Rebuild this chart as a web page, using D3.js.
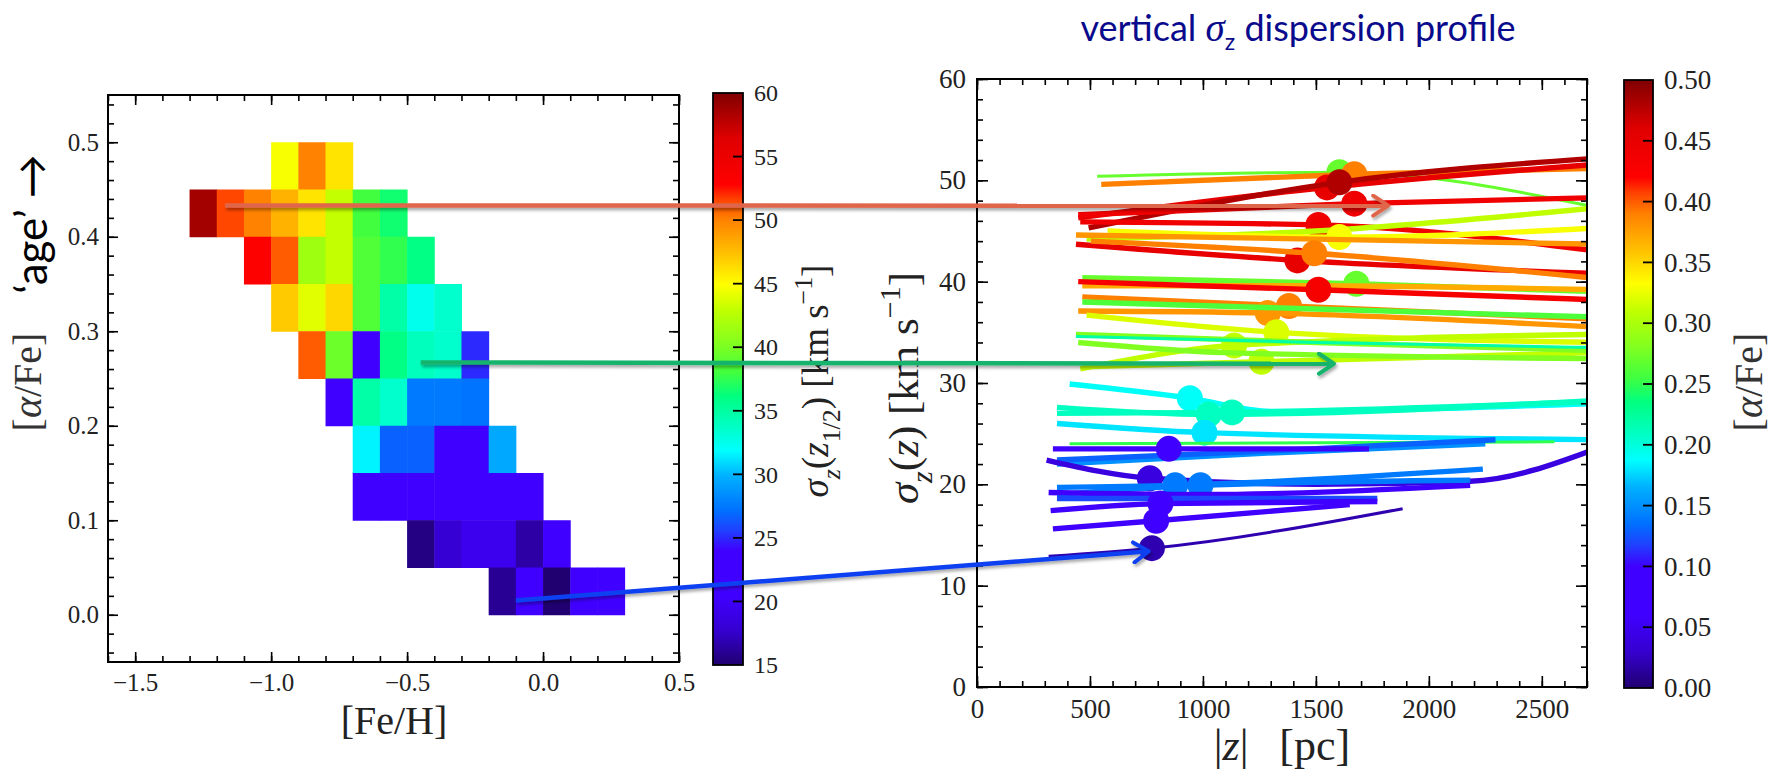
<!DOCTYPE html>
<html><head><meta charset="utf-8">
<script src="https://cdn.jsdelivr.net/npm/d3@7"></script>
<style>body{margin:0;background:#fff}</style>
</head><body><svg id="c" width="1785" height="775"></svg>
<script>
// ================= DATA =================
// Left panel: binned [Fe/H] x [alpha/Fe] map, value = sigma_z(z_1/2) in km/s
const afeRows     = [0.45, 0.40, 0.35, 0.30, 0.25, 0.20, 0.15, 0.10, 0.05, 0.00];
const rowFeHStart = [-1.0, -1.3, -1.1, -1.0, -0.9, -0.8, -0.7, -0.7, -0.5, -0.2];
const rowSigma = [
  [44.7, 50.0, 46.0],
  [58.7, 51.5, 50.0, 48.0, 46.0, 43.0, 38.0, 36.6],
  [53.0, 51.0, 41.5, 43.0, 38.5, 37.5, 36.0],
  [47.0, 44.0, 46.5, 38.5, 34.8, 32.5, 33.5],
  [51.0, 39.5, 21.5, 36.0, 34.0, 33.5, 25.0],
  [21.5, 34.8, 33.5, 27.6, 27.6, 27.3],
  [31.6, 26.7, 26.7, 21.5, 24.0, 29.5],
  [21.5, 21.5, 21.5, 21.5, 21.5, 21.5, 21.5],
  [15.5, 18.0, 19.5, 19.5, 16.5, 21.0],
  [16.0, 21.5, 15.0, 21.5, 21.5]
];
const binFeH = 0.1, binAFe = 0.05;

// Right panel: vertical dispersion profiles sigma_z(|z|), coloured by [alpha/Fe]
// z in pc, s in km/s, dot = index of the marked point (z_1/2) or null
const profiles = [
  {afe:0.27, z:[532,1604,2750],  s:[50.4,50.8,47.3], dot:1},
  {afe:0.39, z:[550,1670,2750],  s:[49.6,50.6,51.2], dot:1},
  {afe:0.45, z:[448,1549,2750],  s:[46.3,49.3,51.6], dot:1},
  {afe:0.48, z:[494,1604,2750],  s:[45.3,49.8,52.2], dot:1},
  {afe:0.44, z:[448,1670,2750],  s:[46.6,47.7,48.3], dot:1},
  {afe:0.44, z:[457,1511,2750],  s:[45.9,45.6,43.0], dot:1},
  {afe:0.31, z:[485,1500,2750],  s:[44.2,45.0,47.3], dot:null},
  {afe:0.33, z:[578,1604,2750],  s:[45.0,44.4,45.3], dot:1},
  {afe:0.38, z:[438,1500,2750],  s:[44.6,44.2,43.7], dot:null},
  {afe:0.45, z:[438,1418,2750],  s:[43.7,42.1,40.8], dot:1},
  {afe:0.39, z:[504,1493,2750],  s:[44.0,42.8,40.3], dot:1},
  {afe:0.27, z:[466,1679,2750],  s:[40.4,39.8,39.0], dot:1},
  {afe:0.37, z:[466,1430,2750],  s:[39.6,39.6,39.2], dot:null},
  {afe:0.43, z:[448,1511,2750],  s:[40.0,39.2,38.2], dot:1},
  {afe:0.39, z:[466,1381,2750],  s:[38.5,37.6,36.3], dot:1},
  {afe:0.38, z:[448,1287,2750],  s:[37.1,36.9,35.5], dot:1},
  {afe:0.26, z:[466,1500,2750],  s:[38.0,37.3,36.5], dot:null},
  {afe:0.32, z:[485,1325,2750],  s:[36.7,35.0,34.0], dot:1},
  {afe:0.31, z:[457,1138,2750],  s:[31.4,33.7,34.8], dot:1},
  {afe:0.31, z:[466,1259,2750],  s:[31.6,32.1,33.0], dot:1},
  {afe:0.28, z:[438,1500,2750],  s:[34.8,34.0,33.2], dot:null},
  {afe:0.22, z:[438,1500,2750],  s:[34.6,34.0,33.5], dot:null},
  {afe:0.28, z:[448,1100,2750],  s:[34.0,33.0,32.4], dot:null},
  {afe:0.19, z:[410,942,1300,2750], s:[29.9,28.5,27.2,28.0], dot:1},
  {afe:0.21, z:[354,1026,2750],  s:[27.6,26.9,28.3], dot:1},
  {afe:0.21, z:[354,1129,2750],  s:[27.0,27.1,28.2], dot:1},
  {afe:0.18, z:[354,1007,2750],  s:[26.0,25.1,24.4], dot:1},
  {afe:0.25, z:[410,1500,2556],  s:[24.0,24.1,24.2], dot:null},
  {afe:0.15, z:[354,1200,2250],  s:[22.0,23.0,24.0], dot:null},
  {afe:0.13, z:[354,1300,2295],  s:[22.4,23.3,24.4], dot:null},
  {afe:0.08, z:[336,849,1735],   s:[23.5,23.5,23.5], dot:1},
  {afe:0.04, z:[308,765,1500,2183,2750], s:[22.4,20.6,20.0,20.3,23.6], dot:1},
  {afe:0.14, z:[354,877,2239],   s:[19.7,19.9,21.5], dot:1},
  {afe:0.14, z:[354,989,2183],   s:[19.0,19.9,20.4], dot:1},
  {afe:0.07, z:[317,1000,2183],  s:[19.2,19.0,19.9], dot:null},
  {afe:0.12, z:[354,1000,1772],  s:[18.6,18.6,18.6], dot:null},
  {afe:0.08, z:[326,812,1772],   s:[17.4,18.1,18.3], dot:1},
  {afe:0.06, z:[336,793,1650],   s:[15.6,16.4,18.0], dot:1},
  {afe:0.02, z:[317,774,1884],   s:[12.9,13.7,17.6], dot:1}
];

// Connecting arrows: start in left panel ([Fe/H],[a/Fe]), end in right panel (|z|, sigma)
const arrowFrom = [[-1.17, 0.433], [-0.45, 0.267], [-0.10, 0.015]];
const arrowTo   = [[1820, 47.5],   [1580, 31.9],   [760, 13.4]];

// Tick labels
const leftXTicks  = [-1.5, -1.0, -0.5, 0.0, 0.5];
const leftYTicks  = [0.0, 0.1, 0.2, 0.3, 0.4, 0.5];
const cbSigmaTicks = [15, 20, 25, 30, 35, 40, 45, 50, 55, 60];
const rightXTicks = [0, 500, 1000, 1500, 2000, 2500];
const rightYTicks = [0, 10, 20, 30, 40, 50, 60];
const cbAFeTicks  = [0.00, 0.05, 0.10, 0.15, 0.20, 0.25, 0.30, 0.35, 0.40, 0.45, 0.50];

// ================= STYLE =================
const cmapStops = [
  [0.00,'#200070'],[0.06,'#3500d0'],[0.12,'#4000ff'],[0.20,'#4000ff'],[0.235,'#2040ff'],
  [0.27,'#0070ff'],[0.33,'#00b0ff'],[0.375,'#00ffff'],[0.42,'#00ffc0'],[0.47,'#00ff80'],
  [0.51,'#40ff40'],[0.56,'#80ff20'],[0.62,'#c0ff00'],[0.665,'#ffff00'],[0.72,'#ffc000'],
  [0.78,'#ff8000'],[0.815,'#ff4000'],[0.84,'#ff0000'],[0.92,'#e00000'],[1.00,'#800000']
];
const cmap = d3.scaleLinear().domain(cmapStops.map(d=>d[0])).range(cmapStops.map(d=>d[1]))
  .interpolate(d3.interpolateRgb).clamp(true);
const arrowColors = ['#e0664b', '#17b36d', '#1040f0'];
const SERIF = "'Liberation Serif', 'DejaVu Serif', serif";
const tickCol = '#222';

const svg = d3.select('#c');
svg.append('rect').attr('width',1785).attr('height',775).attr('fill','#fff');
const defs = svg.append('defs');
const shadow = defs.append('filter').attr('id', 'shadow').attr('x', '-5%').attr('y', '-50%').attr('width', '110%').attr('height', '200%');
shadow.append('feDropShadow').attr('dx', 1.5).attr('dy', 2.5).attr('stdDeviation', 1.5)
  .attr('flood-color', '#000').attr('flood-opacity', 0.35);

// ================= SCALES =================
const lx = d3.scaleLinear().domain([-1.6, 0.5]).range([108, 679]);
const ly = d3.scaleLinear().domain([-0.05, 0.55]).range([662, 95]);
const rx = d3.scaleLinear().domain([0, 2700]).range([977, 1587]);
const ry = d3.scaleLinear().domain([0, 60]).range([687, 79]);
const sigC = d3.scaleLinear().domain([15, 60]).range([0, 1]);
const afeC = d3.scaleLinear().domain([0, 0.5]).range([0, 1]);
const cb1y = d3.scaleLinear().domain([15, 60]).range([665, 93]);
const cb2y = d3.scaleLinear().domain([0, 0.5]).range([688, 80]);

// ================= HELPERS =================
function mathText(sel, parts, size) {
  let shift = 0;
  parts.forEach(p => {
    const target = p.sub ? 0.32 : (p.sup ? -0.42 : 0);
    const ts = sel.append('tspan').text(p.t);
    ts.attr('font-size', (p.sub || p.sup) ? size * 0.7 : size);
    if (p.it) ts.attr('font-style', 'italic');
    const dy = (target - shift) * size;
    if (dy !== 0) ts.attr('dy', dy.toFixed(2));
    shift = target;
  });
}

function framedAxes(g, x, y, o) {
  const [x0, x1] = x.range(), [y0, y1] = y.range();
  const styleTicks = sel => {
    sel.select('.domain').remove();
    sel.selectAll('line').attr('stroke', '#000').attr('stroke-width', 1.6);
    sel.selectAll('text').attr('font-family', SERIF).attr('font-size', o.fs).attr('fill', tickCol);
  };
  g.append('g').attr('transform', `translate(0,${y0})`)
    .call(d3.axisBottom(x).tickValues(o.xMaj).tickSize(-o.maj).tickPadding(o.padX).tickFormat(o.xFmt)).call(styleTicks);
  g.append('g').attr('transform', `translate(0,${y1})`)
    .call(d3.axisTop(x).tickValues(o.xMaj).tickSize(-o.maj).tickFormat('')).call(styleTicks);
  g.append('g').attr('transform', `translate(${x0},0)`)
    .call(d3.axisLeft(y).tickValues(o.yMaj).tickSize(-o.maj).tickPadding(o.padY).tickFormat(o.yFmt)).call(styleTicks);
  g.append('g').attr('transform', `translate(${x1},0)`)
    .call(d3.axisRight(y).tickValues(o.yMaj).tickSize(-o.maj).tickFormat('')).call(styleTicks);
  g.append('g').attr('transform', `translate(0,${y0})`)
    .call(d3.axisBottom(x).tickValues(o.xMin).tickSize(-o.min).tickFormat('')).call(styleTicks);
  g.append('g').attr('transform', `translate(0,${y1})`)
    .call(d3.axisTop(x).tickValues(o.xMin).tickSize(-o.min).tickFormat('')).call(styleTicks);
  g.append('g').attr('transform', `translate(${x0},0)`)
    .call(d3.axisLeft(y).tickValues(o.yMin).tickSize(-o.min).tickFormat('')).call(styleTicks);
  g.append('g').attr('transform', `translate(${x1},0)`)
    .call(d3.axisRight(y).tickValues(o.yMin).tickSize(-o.min).tickFormat('')).call(styleTicks);
  g.append('rect').attr('x', x0).attr('y', y1).attr('width', x1 - x0).attr('height', y0 - y1)
    .attr('fill', 'none').attr('stroke', '#000').attr('stroke-width', 2);
}

function colorbar(id, x, w, yScale, domain, ticks, fmt, fs) {
  const grad = defs.append('linearGradient').attr('id', id)
    .attr('x1', 0).attr('y1', 1).attr('x2', 0).attr('y2', 0);
  cmapStops.forEach(s => grad.append('stop').attr('offset', s[0]).attr('stop-color', s[1]));
  const [ya, yb] = [yScale(domain[1]), yScale(domain[0])];
  const g = svg.append('g');
  g.append('rect').attr('x', x).attr('y', ya).attr('width', w).attr('height', yb - ya)
    .attr('fill', `url(#${id})`).attr('stroke', '#000').attr('stroke-width', 1.8);
  g.append('g').attr('transform', `translate(${x + w},0)`)
    .call(d3.axisRight(yScale).tickValues(ticks).tickSize(0).tickPadding(11).tickFormat(fmt))
    .call(s => { s.select('.domain').remove();
      s.selectAll('text').attr('font-family', SERIF).attr('font-size', fs).attr('fill', tickCol); });
  g.selectAll('line.cbt').data(ticks.slice(1, -1)).join('line').attr('class', 'cbt')
    .attr('x1', x + w - 10).attr('x2', x + w).attr('y1', d => yScale(d)).attr('y2', d => yScale(d))
    .attr('stroke', '#000').attr('stroke-width', 1.8);
}

// ================= LEFT PANEL =================
const left = svg.append('g');
const cells = [];
afeRows.forEach((a, i) => rowSigma[i].forEach((s, j) => cells.push({feh: rowFeHStart[i] + j * binFeH, afe: a, s})));
left.selectAll('rect.cell').data(cells).join('rect').attr('class', 'cell')
  .attr('x', d => lx(d.feh)).attr('y', d => ly(d.afe + binAFe))
  .attr('width', d => lx(d.feh + binFeH) - lx(d.feh) + 0.5)
  .attr('height', d => ly(d.afe) - ly(d.afe + binAFe) + 0.5)
  .attr('fill', d => cmap(sigC(d.s)));

framedAxes(left, lx, ly, {
  xMaj: leftXTicks, yMaj: leftYTicks,
  xMin: d3.range(-1.6, 0.501, 0.1), yMin: d3.range(-0.04, 0.55, 0.02),
  maj: 10, min: 6, padX: 11, padY: 9, fs: 25,
  xFmt: d3.format('.1f'), yFmt: d3.format('.1f')
});
left.append('text').attr('x', 394).attr('y', 734).attr('text-anchor', 'middle')
  .attr('font-family', SERIF).attr('font-size', 40).attr('fill', '#222').text('[Fe/H]');
mathText(left.append('text').attr('transform', 'translate(41,382) rotate(-90)').attr('text-anchor', 'middle')
  .attr('font-family', SERIF).attr('fill', '#333'),
  [{t:'['},{t:'α',it:1},{t:'/Fe]'}], 40);
left.append('text').attr('transform', 'translate(47,224) rotate(-90)').attr('text-anchor', 'middle')
  .attr('font-family', "Lato, 'Open Sans', sans-serif").attr('font-size', 44).attr('fill', '#000')
  .text('\u2018age\u2019 \u2192');

colorbar('g1', 713, 30, cb1y, [15, 60], cbSigmaTicks, d3.format('d'), 24);
mathText(svg.append('text').attr('transform', 'translate(828,381) rotate(-90)').attr('text-anchor', 'middle')
  .attr('font-family', SERIF).attr('fill', '#222'),
  [{t:'σ',it:1},{t:'z',it:1,sub:1},{t:'('},{t:'z',it:1},{t:'1/2',sub:1},{t:') [km s'},{t:'−1',sup:1},{t:']'}], 37);

// ================= RIGHT PANEL =================
const right = svg.append('g');
defs.append('clipPath').attr('id', 'rclip').append('rect')
  .attr('x', 977).attr('y', 79).attr('width', 610).attr('height', 608);
const plot = right.append('g').attr('clip-path', 'url(#rclip)');
const thin = new Set([0, 21, 27, 38]);
const lineGen = d3.line().x(d => rx(d[0])).y(d => ry(d[1])).curve(d3.curveMonotoneX);
profiles.forEach((p, i) => {
  const pts = p.z.map((z, k) => [z, p.s[k]]);
  const col = cmap(afeC(p.afe));
  plot.append('path').attr('d', lineGen(pts)).attr('fill', 'none').attr('stroke', col)
    .attr('stroke-width', thin.has(i) ? 3 : 5.4).attr('stroke-linecap', 'butt');
  if (p.dot !== null) {
    plot.append('circle').attr('cx', rx(p.z[p.dot])).attr('cy', ry(p.s[p.dot])).attr('r', 13).attr('fill', col);
  }
});
framedAxes(right, rx, ry, {
  xMaj: rightXTicks, yMaj: rightYTicks,
  xMin: d3.range(0, 2701, 100), yMin: d3.range(0, 60.1, 2),
  maj: 11, min: 6, padX: 12, padY: 11, fs: 27,
  xFmt: d3.format('d'), yFmt: d3.format('d')
});
mathText(right.append('text').attr('x', 1282).attr('y', 760).attr('text-anchor', 'middle')
  .attr('font-family', SERIF).attr('fill', '#222'),
  [{t:'|'},{t:'z',it:1},{t:'|\u2002\u2009[pc]'}], 44);
mathText(right.append('text').attr('transform', 'translate(918,388) rotate(-90)').attr('text-anchor', 'middle')
  .attr('font-family', SERIF).attr('fill', '#222'),
  [{t:'σ',it:1},{t:'z',it:1,sub:1},{t:'('},{t:'z',it:1},{t:') [km s'},{t:'−1',sup:1},{t:']'}], 43);

colorbar('g2', 1624, 29, cb2y, [0, 0.5], cbAFeTicks, d3.format('.2f'), 27);
mathText(svg.append('text').attr('transform', 'translate(1762,382) rotate(-90)').attr('text-anchor', 'middle')
  .attr('font-family', SERIF).attr('fill', '#333'),
  [{t:'['},{t:'α',it:1},{t:'/Fe]'}], 40);

// Title
const title = svg.append('text').attr('x', 1298).attr('y', 41).attr('text-anchor', 'middle')
  .attr('font-family', "Lato, 'Open Sans', sans-serif").attr('font-size', 36).attr('fill', '#0a0a8c');
title.append('tspan').text('vertical ');
title.append('tspan').text('σ').attr('font-family', SERIF).attr('font-style', 'italic').attr('font-size', 39);
title.append('tspan').text('z').attr('font-size', 23).attr('dy', 9);
title.append('tspan').text(' dispersion profile').attr('dy', -9);

// ================= ARROWS =================
arrowColors.forEach((c, i) => {
  defs.append('marker').attr('id', 'ah' + i).attr('markerUnits', 'userSpaceOnUse')
    .attr('viewBox', '-20 -12 24 24').attr('markerWidth', 24).attr('markerHeight', 24)
    .attr('refX', 0).attr('refY', 0).attr('orient', 'auto')
    .append('path').attr('d', 'M-15,-10 L0,0 L-15,10').attr('fill', 'none')
    .attr('stroke', c).attr('stroke-width', 4).attr('stroke-linecap', 'round').attr('stroke-linejoin', 'round');
});
const arrows = svg.append('g').attr('filter', 'url(#shadow)');
arrowFrom.forEach((f, i) => {
  arrows.append('line')
    .attr('x1', lx(f[0])).attr('y1', ly(f[1]))
    .attr('x2', rx(arrowTo[i][0])).attr('y2', ry(arrowTo[i][1]))
    .attr('stroke', arrowColors[i]).attr('stroke-width', 4.5)
    .attr('marker-end', `url(#ah${i})`);
});
</script>
</body></html>
